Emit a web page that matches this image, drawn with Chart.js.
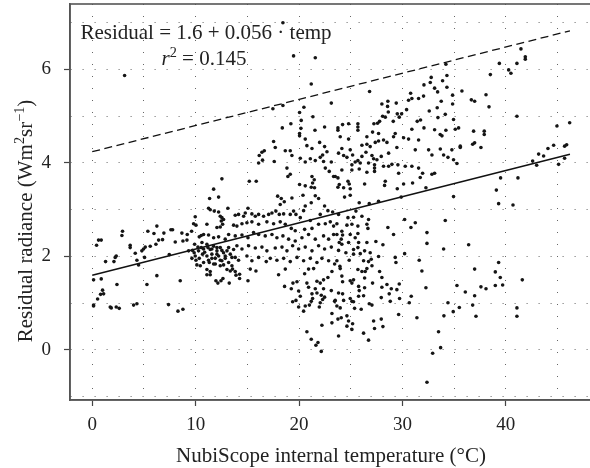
<!DOCTYPE html>
<html>
<head>
<meta charset="utf-8">
<script src="https://cdn.jsdelivr.net/npm/chart.js@4.4.0/dist/chart.umd.min.js"></script>
<style>
    html, body { margin: 0; padding: 0; background: #fff; overflow: hidden; }
    #wrap { width: 600px; height: 468px; }
</style>
</head>
<body>
<div id="wrap"><canvas id="graficoResidual" width="600" height="468"></canvas></div>
<script>
// Lecturas (temperatura interna en °C, radiancia residual) agrupadas por zona
const lejanoIzquierda = [
    [3.13, 5.87], [0.61, 2.35], [0.87, 2.35], [0.42, 2.24], [2.93, 2.54], [2.87, 2.45],
    [3.67, 2.24], [3.67, 2.19], [2.32, 2.01], [2.22, 1.98], [2.10, 1.89], [1.29, 1.89],
    [0.13, 1.50], [0.87, 1.52], [2.39, 1.40], [1.00, 1.28], [0.81, 1.19], [1.10, 1.20],
    [0.52, 1.09], [0.13, 0.94], [0.13, 0.96], [1.74, 0.92], [1.84, 0.90], [2.32, 0.92],
    [2.61, 0.89], [4.00, 0.96], [4.32, 0.99], [5.29, 1.40], [6.25, 1.59], [8.51, 1.48],
    [7.38, 0.97], [8.29, 0.83], [8.77, 0.87]
];

const franjaFria = [
    [9.96, 2.85], [9.80, 2.70], [10.03, 2.67], [6.25, 2.65], [5.38, 2.54], [5.97, 2.49],
    [6.93, 2.50], [7.61, 2.57], [7.77, 2.57], [8.67, 2.50], [9.19, 2.47], [9.61, 2.54],
    [6.80, 2.36], [6.42, 2.35], [6.16, 2.26], [9.16, 2.35], [8.77, 2.33], [8.03, 2.31],
    [10.54, 2.45], [10.35, 2.42], [10.77, 2.47], [5.13, 2.20], [5.61, 2.22], [4.96, 2.16],
    [4.80, 2.12], [4.16, 2.07], [4.32, 1.92], [5.06, 1.98], [7.45, 2.04], [9.32, 2.12],
    [9.70, 2.13], [9.86, 2.08], [9.96, 2.01], [10.28, 2.12], [10.54, 2.19], [10.77, 2.16],
    [10.87, 2.09], [10.03, 1.92], [10.35, 1.96], [10.77, 1.87], [10.12, 1.82], [4.48, 1.82],
    [9.90, 2.26], [10.22, 2.20], [10.61, 2.30], [9.64, 1.96], [10.45, 1.80], [10.67, 2.05]
];

const nucleoAlto = [
    [18.44, 7.00], [19.47, 6.29], [21.57, 6.25], [21.18, 5.69], [23.12, 5.28], [17.47, 5.16],
    [18.44, 5.23], [20.47, 5.19], [20.05, 5.08], [21.34, 4.99], [20.21, 4.91], [19.21, 4.84],
    [18.38, 4.75], [20.18, 4.74], [20.05, 4.63], [21.54, 4.70], [22.47, 4.77],
    [17.54, 4.46], [17.70, 4.33], [20.05, 4.58], [20.60, 4.51], [21.25, 4.31], [20.76, 4.37],
    [21.99, 4.44], [22.47, 4.35], [22.70, 4.24], [22.28, 4.17], [18.67, 4.26], [19.15, 4.26],
    [19.31, 4.16], [16.41, 4.23], [16.64, 4.26], [16.15, 4.16], [16.47, 4.06], [16.09, 4.00],
    [17.60, 4.03], [18.83, 3.89], [20.12, 4.10], [20.60, 4.02], [21.09, 4.09], [21.57, 4.05],
    [22.05, 4.12], [22.37, 4.03], [23.12, 4.02], [22.54, 3.89], [22.92, 3.82], [23.34, 3.71],
    [19.15, 3.76], [18.92, 3.71], [21.25, 3.71], [21.47, 3.64], [21.31, 3.57], [21.18, 3.48],
    [20.05, 3.54], [20.60, 3.51], [21.50, 3.47], [12.54, 3.66], [15.19, 3.61], [15.86, 3.61],
    [11.74, 3.44], [12.22, 3.27], [11.35, 3.24], [17.93, 3.29], [18.28, 3.24], [18.57, 3.17],
    [18.18, 3.11], [19.31, 3.25], [20.38, 3.31], [21.57, 3.30], [21.89, 3.24], [21.18, 3.15],
    [20.60, 3.08], [20.44, 2.98], [22.47, 3.08], [22.79, 2.98], [23.25, 2.95], [22.05, 2.90],
    [21.09, 2.77], [11.25, 3.03], [11.41, 3.00], [11.80, 2.97], [12.22, 2.95], [13.12, 3.03],
    [15.06, 3.03]
];

const nucleoMedio = [
    [11.09, 2.69], [12.38, 2.86], [12.54, 2.83], [12.48, 2.76], [12.70, 2.79], [12.61, 2.69],
    [12.38, 2.63], [12.06, 2.62], [13.83, 2.88], [14.15, 2.90], [14.64, 2.86], [14.80, 2.93],
    [15.44, 2.91], [15.77, 2.86], [16.09, 2.90], [16.57, 2.86], [17.06, 2.90], [17.38, 2.93],
    [17.76, 2.97], [18.09, 2.90], [18.51, 2.91], [19.15, 2.90], [19.47, 2.97], [19.70, 2.90],
    [20.12, 2.83], [13.67, 2.67], [13.99, 2.65], [14.48, 2.70], [14.96, 2.72], [15.44, 2.74],
    [16.09, 2.69], [16.89, 2.74], [17.54, 2.70], [18.18, 2.74], [18.67, 2.69], [19.25, 2.60],
    [19.63, 2.55], [20.54, 2.58], [21.25, 2.60], [21.89, 2.69], [22.54, 2.70], [23.02, 2.74],
    [23.34, 2.65], [11.25, 2.46], [11.74, 2.40], [12.22, 2.42], [12.86, 2.37], [13.19, 2.47],
    [13.83, 2.44], [14.48, 2.46], [15.06, 2.40], [15.60, 2.51], [16.09, 2.47], [16.73, 2.44],
    [17.38, 2.47], [17.86, 2.40], [18.44, 2.44], [18.99, 2.37], [19.63, 2.33], [20.28, 2.40],
    [20.92, 2.47], [21.57, 2.37], [22.37, 2.44], [22.86, 2.37], [23.34, 2.47], [11.19, 2.19],
    [11.57, 2.16], [12.06, 2.19], [12.54, 2.13], [13.19, 2.19], [13.99, 2.23], [14.48, 2.16],
    [15.12, 2.23], [15.77, 2.18], [16.41, 2.20], [16.89, 2.12], [17.70, 2.18], [18.35, 2.20],
    [18.83, 2.12], [19.38, 2.23], [19.96, 2.16], [20.60, 2.20], [21.25, 2.12], [21.89, 2.23],
    [22.47, 2.16], [23.12, 2.20], [11.09, 2.01], [11.57, 1.96], [12.06, 2.05], [12.38, 1.92],
    [12.86, 2.01], [11.32, 1.87], [11.90, 1.84], [12.70, 1.82], [13.51, 1.98], [14.15, 1.92],
    [14.96, 2.01], [15.44, 1.91], [16.09, 1.98], [16.83, 1.89], [17.22, 1.96], [17.86, 1.92],
    [18.51, 1.96], [19.15, 1.89], [19.80, 1.98], [20.44, 1.91], [21.09, 1.96], [21.73, 1.87],
    [22.21, 1.96], [22.86, 1.91], [23.44, 1.84],
    // grumo denso entre 11 y 14 °C
    [11.09, 2.26], [11.41, 2.15], [11.74, 2.22], [12.06, 2.12], [12.38, 2.19], [12.70, 2.08],
    [11.57, 2.05], [11.90, 1.96], [12.22, 2.01], [12.54, 1.91], [12.86, 1.96], [11.25, 1.92],
    [11.74, 1.84], [12.38, 1.80], [13.19, 1.87], [13.51, 1.80], [13.03, 2.12], [13.35, 2.05],
    [13.83, 1.98], [13.67, 2.15]
];

const nucleoBajo = [
    [11.09, 1.72], [11.41, 1.68], [11.09, 1.61], [11.41, 1.61], [11.96, 1.48], [12.15, 1.43],
    [12.45, 1.48], [12.64, 1.53], [13.25, 1.43], [13.03, 1.72], [13.35, 1.69], [13.57, 1.73],
    [13.83, 1.68], [13.90, 1.60], [14.25, 1.62], [14.25, 1.53], [15.06, 1.48], [15.28, 1.73],
    [15.83, 1.69], [18.02, 1.61], [18.67, 1.73], [18.60, 1.36], [19.25, 1.31], [19.41, 1.43],
    [19.80, 1.46], [19.38, 1.03], [19.70, 1.06], [19.96, 1.26], [20.12, 1.15], [19.96, 0.92],
    [20.54, 1.63], [20.92, 1.73], [21.41, 1.74], [20.76, 1.43], [20.92, 1.34], [21.25, 1.20],
    [21.57, 1.31], [21.73, 1.47], [22.05, 1.43], [22.37, 1.50], [22.79, 1.55], [23.18, 1.68],
    [23.12, 1.27], [23.44, 1.04], [22.37, 1.31], [21.73, 1.22], [22.15, 1.17], [21.31, 1.10],
    [21.00, 0.96], [20.60, 0.94], [20.44, 0.83], [21.18, 1.04], [22.05, 1.01], [22.28, 1.08],
    [22.47, 1.13], [21.96, 0.92], [23.18, 0.78], [23.18, 0.58], [22.21, 0.53], [20.76, 0.39],
    [21.18, 0.23], [21.63, 0.10], [21.83, 0.16], [22.15, -0.03]
];

const calidoAlto = [
    [34.20, 6.11], [26.82, 5.53], [32.78, 5.83], [34.30, 5.87], [33.88, 5.76], [32.69, 5.72],
    [32.08, 5.67], [33.11, 5.60], [33.40, 5.52], [34.30, 5.62], [30.79, 5.49], [30.59, 5.34],
    [30.91, 5.38], [31.56, 5.38], [32.04, 5.43], [28.59, 5.32], [28.01, 5.26], [29.40, 5.28],
    [28.56, 5.21], [28.63, 5.09], [28.08, 5.00], [28.34, 4.98], [29.50, 5.05], [29.92, 5.05],
    [29.69, 4.98], [30.40, 5.14], [29.11, 4.89], [27.79, 4.89], [27.59, 4.85], [27.24, 4.84],
    [31.43, 4.89], [31.75, 4.92], [32.59, 5.11], [33.36, 5.18], [33.75, 5.32], [34.14, 5.04],
    [33.43, 4.97], [34.85, 5.45], [34.85, 5.26], [34.94, 4.93], [23.76, 4.75], [24.21, 4.82],
    [24.79, 4.84], [25.69, 4.84], [25.69, 4.77], [25.69, 4.70], [27.11, 4.66], [27.69, 4.63],
    [29.30, 4.63], [30.91, 4.72], [32.08, 4.75], [33.11, 4.71], [33.65, 4.61], [34.20, 4.70],
    [23.76, 4.70],
    [23.98, 4.56], [24.79, 4.51], [26.56, 4.56], [27.69, 4.47], [28.17, 4.49], [29.14, 4.56],
    [30.11, 4.54], [30.59, 4.51], [31.56, 4.49], [33.82, 4.58], [24.14, 4.31], [24.95, 4.28],
    [26.08, 4.38], [26.56, 4.40], [26.88, 4.35], [27.37, 4.44], [28.50, 4.44], [28.66, 4.21],
    [29.46, 4.33], [31.24, 4.28], [32.53, 4.28], [33.66, 4.30], [34.78, 4.28], [23.82, 4.21],
    [24.31, 4.16], [24.63, 4.12], [25.18, 4.17], [25.69, 4.05], [26.08, 4.14], [26.47, 4.23],
    [27.05, 4.16], [27.21, 4.09], [27.53, 4.07], [27.30, 3.96], [26.72, 4.00], [27.95, 4.14],
    [32.85, 4.17], [33.98, 4.17], [34.40, 4.12], [34.94, 4.07], [25.11, 3.96], [25.43, 4.02],
    [25.92, 4.00], [28.17, 3.93], [28.66, 3.93], [28.98, 3.97], [29.56, 3.96], [30.27, 3.93],
    [30.91, 3.93], [31.56, 3.89], [24.14, 3.85], [25.11, 3.85], [25.82, 3.87], [26.56, 3.80],
    [27.30, 3.89], [27.30, 3.82], [29.63, 3.78], [31.95, 3.78], [31.72, 3.69], [32.85, 3.76],
    [33.11, 3.78], [23.50, 3.71], [23.76, 3.68], [24.73, 3.61], [26.34, 3.55], [28.34, 3.61],
    [28.27, 3.52], [23.89, 3.54], [23.76, 3.48], [24.31, 3.47], [24.95, 3.45], [24.85, 3.55],
    [30.11, 3.55], [30.98, 3.57], [29.50, 3.45], [32.27, 3.47], [24.40, 3.27], [24.95, 3.31],
    [25.82, 3.15], [26.79, 3.13], [27.69, 3.18], [29.88, 3.27], [34.94, 3.28]
];

const calidoBajo = [
    [23.82, 2.90], [24.73, 2.83], [25.27, 2.84], [25.50, 2.97], [26.08, 2.86], [26.72, 2.79],
    [23.66, 2.70], [24.63, 2.67], [25.11, 2.69], [25.69, 2.65], [26.56, 2.69], [26.66, 2.60],
    [24.14, 2.54], [23.66, 2.47], [24.21, 2.46], [24.95, 2.47], [25.69, 2.49], [25.43, 2.40],
    [24.08, 2.37], [28.59, 2.62], [29.14, 2.47], [30.21, 2.79], [30.82, 2.62], [31.24, 2.72],
    [32.37, 2.51], [34.14, 2.77], [23.89, 2.30], [24.14, 2.26], [24.79, 2.30], [25.76, 2.30],
    [26.56, 2.30], [27.43, 2.32], [28.11, 2.25], [25.27, 2.15], [25.69, 2.19], [26.34, 2.12],
    [26.88, 2.08], [23.82, 2.13], [24.53, 2.08], [25.27, 2.05], [25.92, 2.06], [27.69, 2.00],
    [29.30, 1.98], [30.21, 2.06], [31.62, 1.92], [32.37, 2.28], [33.98, 2.16], [23.66, 1.91],
    [24.85, 1.92], [26.24, 1.91], [26.72, 1.89], [26.98, 1.94], [29.37, 1.87], [23.95, 1.79],
    [27.05, 1.80],
    [23.98, 1.74], [25.69, 1.72], [26.08, 1.68], [26.40, 1.68], [26.56, 1.74], [27.79, 1.68],
    [24.14, 1.58], [24.21, 1.46], [24.95, 1.48], [25.11, 1.43], [25.27, 1.50], [25.76, 1.36],
    [25.82, 1.27], [26.34, 1.54], [26.34, 1.33], [27.11, 1.43], [28.01, 1.55], [28.01, 1.34],
    [28.50, 1.40], [28.92, 1.31], [29.46, 1.29], [29.69, 1.41], [28.72, 1.20], [23.82, 1.22],
    [24.21, 1.20], [23.50, 1.06], [24.31, 1.06], [24.95, 1.10], [25.11, 1.04], [25.27, 1.03],
    [25.76, 1.15], [26.24, 1.16], [27.95, 1.12], [28.82, 1.04], [29.72, 1.10], [23.66, 0.94],
    [23.98, 0.90], [25.37, 0.89], [26.01, 0.87], [26.79, 0.99], [27.05, 0.96], [23.76, 0.66],
    [24.08, 0.69], [24.63, 0.73], [24.79, 0.62], [25.18, 0.56], [24.63, 0.51], [25.11, 0.44],
    [27.21, 0.62], [27.30, 0.46], [27.95, 0.66], [28.11, 0.50], [26.24, 0.36], [26.72, 0.21],
    [23.82, 0.30], [29.63, 0.76], [30.85, 1.15], [30.66, 1.01], [31.40, 0.69], [31.88, 1.69],
    [32.27, 1.33], [33.49, 0.39], [33.69, 0.05], [32.92, -0.07], [32.37, -0.69], [34.40, 1.01],
    [34.01, 0.73], [34.91, 0.82]
];

const lejanoDerecha = [
    [39.37, 6.13], [41.07, 6.13], [41.46, 6.44], [41.88, 6.27], [41.88, 6.22], [40.27, 5.99],
    [40.49, 5.92], [38.50, 5.89], [35.75, 5.54], [36.66, 5.35], [36.98, 5.32], [38.08, 5.46],
    [38.37, 5.20], [41.07, 5.00], [35.43, 4.75], [35.11, 4.72], [36.88, 4.68], [37.91, 4.68],
    [37.91, 4.61], [35.59, 4.36], [35.59, 4.33], [36.79, 4.40], [36.98, 4.43], [37.59, 4.33],
    [35.27, 3.99], [44.94, 4.79], [46.17, 4.86], [44.62, 4.38], [44.07, 4.31], [43.65, 4.15],
    [43.17, 4.19], [42.59, 4.04], [42.98, 3.95], [45.10, 3.97], [45.68, 4.10], [45.68, 4.36],
    [45.88, 4.39], [39.49, 3.68], [41.17, 3.68], [39.08, 3.42], [39.30, 3.13], [40.69, 3.10],
    [36.40, 2.25], [36.98, 1.73], [39.30, 1.87], [38.98, 1.67], [39.46, 1.55], [39.69, 1.39],
    [38.98, 1.38], [35.27, 1.38], [36.08, 1.24], [37.59, 1.35], [38.08, 1.31], [36.98, 1.16],
    [36.79, 0.96], [35.50, 0.91], [37.11, 0.72], [41.59, 1.50], [41.07, 0.90], [41.07, 0.72]
];

// Ajuste lineal y línea superior (misma pendiente)
const ajusteIntercepto = 1.6;
const ajustePendiente = 0.056;
const superiorIntercepto = 4.24;
const rangoAjuste = [0, 46.2];

// Marcas de los ejes
const xGrid = [0, 5, 10, 15, 20, 25, 30, 35, 40, 45];
const xEtiquetas = [0, 10, 20, 30, 40];
const yGrid = [-1, 0, 1, 2, 3, 4, 5, 6, 7];
const yEtiquetas = [0, 2, 4, 6];

const serif = "'Liberation Serif', 'DejaVu Serif', serif";

const todos = [].concat(lejanoIzquierda, franjaFria, nucleoAlto, nucleoMedio, nucleoBajo,
    calidoAlto, calidoBajo, lejanoDerecha).map(p => ({ x: p[0], y: p[1] }));

const linea = b => rangoAjuste.map(t => ({ x: t, y: b + ajustePendiente * t }));

// Texto con superíndices / cursiva
function textoRico(ctx, partes, x, y, size, align) {
    const fuente = p => (p.italic ? 'italic ' : '') + (p.sup ? size * 0.68 : size) + 'px ' + serif;
    let ancho = 0;
    partes.forEach(p => { ctx.font = fuente(p); ancho += ctx.measureText(p.t).width; });
    let cx = align === 'center' ? x - ancho / 2 : x;
    ctx.textAlign = 'left';
    ctx.textBaseline = 'alphabetic';
    partes.forEach(p => {
        ctx.font = fuente(p);
        ctx.fillText(p.t, cx, y - (p.sup ? size * 0.4 : 0));
        cx += ctx.measureText(p.t).width;
    });
}

const marcoYTextos = {
    id: 'marcoYTextos',
    afterDraw(chart) {
        const { ctx, chartArea: a } = chart;
        ctx.save();
        ctx.strokeStyle = '#555';
        ctx.lineWidth = 1.6;
        ctx.strokeRect(a.left, a.top, a.right - a.left, a.bottom - a.top);

        ctx.fillStyle = '#222';
        textoRico(ctx, [{ t: 'Residual = 1.6 + 0.056 · temp' }], 206, 39, 21, 'center');
        textoRico(ctx, [{ t: 'r', italic: true }, { t: '2', sup: true }, { t: ' = 0.145' }], 204, 65, 21, 'center');

        textoRico(ctx, [{ t: 'NubiScope internal temperature (°C)' }], (a.left + a.right) / 2, 462, 21, 'center');

        ctx.translate(32, 221);
        ctx.rotate(-Math.PI / 2);
        textoRico(ctx, [{ t: 'Residual radiance (Wm' }, { t: '2', sup: true }, { t: 'sr' },
            { t: '−1', sup: true }, { t: ')' }], 0, 0, 21, 'center');
        ctx.restore();
    }
};

const sinRelleno = s => { s.paddingTop = 0; s.paddingBottom = 0; s.paddingLeft = 0; s.paddingRight = 0; };

new Chart(document.getElementById('graficoResidual'), {
    type: 'scatter',
    data: {
        datasets: [
            {
                data: todos,
                pointRadius: 1.8,
                pointBackgroundColor: '#151515',
                pointBorderWidth: 0
            },
            {
                data: linea(ajusteIntercepto),
                showLine: true,
                borderColor: '#111',
                borderWidth: 1.5,
                pointRadius: 0
            },
            {
                data: linea(superiorIntercepto),
                showLine: true,
                borderColor: '#111',
                borderWidth: 1.3,
                borderDash: [8, 4.5],
                pointRadius: 0
            }
        ]
    },
    options: {
        responsive: false,
        animation: false,
        layout: { padding: { top: 3, right: 8, left: 0, bottom: 0 } },
        plugins: { legend: { display: false }, tooltip: { enabled: false } },
        scales: {
            x: {
                type: 'linear',
                min: -2.15,
                max: 48.33,
                afterBuildTicks: s => { s.ticks = xGrid.map(v => ({ value: v })); },
                afterFit: s => { s.height = 68; sinRelleno(s); },
                ticks: {
                    autoSkip: false,
                    maxRotation: 0,
                    padding: 8,
                    color: '#222',
                    font: { family: serif, size: 19 },
                    callback: v => xEtiquetas.includes(v) ? String(v) : ''
                },
                grid: {
                    color: 'rgba(0,0,0,0.6)',
                    lineWidth: 1,
                    tickLength: 6,
                    tickWidth: 1.2,
                    tickBorderDash: [],
                    tickColor: c => xEtiquetas.includes(c.tick && c.tick.value) ? '#444' : 'rgba(0,0,0,0)'
                },
                border: { color: '#555', width: 1.6, dash: [1, 11] }
            },
            y: {
                type: 'linear',
                min: -1.07,
                max: 7.40,
                afterBuildTicks: s => { s.ticks = yGrid.map(v => ({ value: v })); },
                afterFit: s => { s.width = 70; sinRelleno(s); },
                ticks: {
                    autoSkip: false,
                    padding: 13,
                    color: '#222',
                    font: { family: serif, size: 19 },
                    callback: v => yEtiquetas.includes(v) ? String(v) : ''
                },
                grid: {
                    color: 'rgba(0,0,0,0.6)',
                    lineWidth: 1,
                    tickLength: 6,
                    tickWidth: 1.2,
                    tickBorderDash: [],
                    tickColor: c => yEtiquetas.includes(c.tick && c.tick.value) ? '#444' : 'rgba(0,0,0,0)'
                },
                border: { color: '#555', width: 1.6, dash: [1, 11] }
            }
        }
    },
    plugins: [marcoYTextos]
});
</script>
</body>
</html>
